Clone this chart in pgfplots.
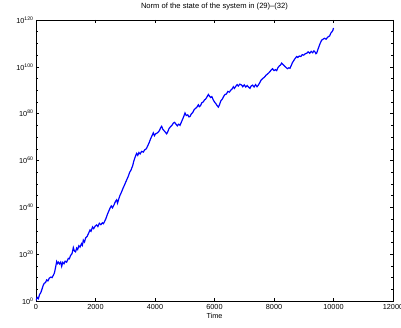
\documentclass[border=0pt]{standalone}
\usepackage{pgfplots}
\pgfplotsset{compat=1.18}
\usepackage{fontspec}
\setmainfont{Liberation Sans}
\begin{document}
\begin{tikzpicture}
\begin{axis}[
  scale only axis, width=357pt, height=281pt, at={(0,0)}, anchor=south west,
  xmin=0, xmax=12000, ymin=0, ymax=120,
  xtick={0,2000,4000,6000,8000,10000,12000},
  ytick={0,20,40,60,80,100,120},
  yticklabels={10\textsuperscript{0},10\textsuperscript{20},10\textsuperscript{40},10\textsuperscript{60},10\textsuperscript{80},10\textsuperscript{100},10\textsuperscript{120}},
  minor ytick={5,10,15,25,30,35,45,50,55,65,70,75,85,90,95,105,110,115},
  tick align=inside, major tick length=3pt, minor tick length=2pt,
  every tick/.style={black, line width=0.5pt},
  axis line style={line width=0.6pt},
  ticklabel style={font=\fontsize{7.3}{8}\selectfont},
  yticklabel style={xshift=1pt},
  scaled x ticks=false,
  xticklabel style={/pgf/number format/1000 sep={}},
  /pgf/number format/assume math mode=true,
  title={Norm of the state of the system in (29)--(32)},
  title style={font=\fontsize{7.6}{8.5}\selectfont, at={(0.5,1)}, anchor=south, yshift=0pt},
  xlabel={Time},
  xlabel style={font=\fontsize{7.3}{8}\selectfont, yshift=3pt},
]
\addplot[color={rgb,1:red,0;green,0;blue,1}, line width=1.2pt] table {
x y
0 0.3
40 1.5
80 1.0
120 2.8
160 3.5
200 5.0
246 6.8
280 7.6
320 7.9
359 9.0
400 8.6
450 9.8
500 10.2
540 10.0
583 11.0
620 12.0
660 14.5
695 16.8
720 16.0
750 16.6
790 15.8
830 16.6
863 14.8
900 16.5
940 15.9
980 17.0
1030 16.6
1087 18.2
1120 18.0
1160 19.4
1210 20.2
1255 22.8
1290 21.4
1330 21.0
1367 22.6
1400 22.0
1440 23.6
1480 23.0
1530 24.5
1560 23.8
1591 26.0
1630 25.2
1670 27.0
1720 27.6
1770 29.0
1815 30.3
1850 29.8
1900 31.6
1940 30.9
1990 32.0
2039 32.5
2080 31.8
2130 33.2
2180 32.6
2230 33.4
2263 33.0
2300 33.8
2350 35.2
2400 37.0
2450 38.5
2487 39.6
2530 40.6
2570 39.8
2620 41.0
2670 42.5
2711 43.2
2740 41.8
2780 43.5
2820 45.0
2870 46.4
2920 48.0
2970 49.4
3010 50.6
3048 51.7
3100 53.2
3150 55.0
3190 55.8
3216 56.7
3250 57.8
3280 59.4
3320 61.0
3360 62.4
3384 63.0
3420 62.2
3460 63.4
3500 62.8
3550 63.9
3608 63.6
3650 64.5
3690 64.8
3720 65.3
3760 66.4
3800 67.5
3850 69.2
3900 70.6
3944 71.8
3980 70.6
4020 71.4
4055 71.6
4100 72.0
4150 72.8
4190 74.0
4224 74.6
4260 73.4
4300 72.8
4340 72.2
4392 71.4
4430 72.3
4470 73.6
4520 74.4
4570 75.0
4616 76.0
4660 76.3
4700 75.6
4750 74.8
4800 75.5
4840 75.0
4880 76.2
4920 77.4
4960 78.6
5008 80.3
5050 79.2
5100 79.5
5140 78.6
5176 78.8
5220 79.9
5270 80.5
5320 81.8
5370 82.3
5420 83.0
5457 83.8
5490 83.0
5530 83.4
5570 84.6
5620 85.0
5660 85.8
5700 86.2
5750 87.2
5793 88.2
5830 87.5
5870 86.9
5910 87.3
5961 85.8
6000 85.0
6050 84.2
6090 83.4
6129 82.8
6170 83.9
6210 85.4
6260 86.2
6310 87.4
6353 88.2
6400 88.4
6450 89.5
6500 89.2
6550 90.1
6600 90.7
6633 91.5
6670 90.8
6710 91.6
6760 92.4
6800 91.8
6850 92.6
6914 92.2
6950 91.5
7000 92.3
7050 91.4
7100 92.0
7150 91.3
7193 90.8
7230 91.8
7280 92.2
7330 91.4
7380 92.4
7430 91.5
7473 92.2
7520 93.2
7560 94.2
7586 94.6
7630 95.1
7680 95.6
7730 96.4
7780 96.9
7830 97.5
7866 98.0
7900 98.6
7950 99.2
8000 98.4
8050 98.8
8090 98.4
8130 99.6
8180 100.4
8220 100.8
8258 101.6
8300 101.0
8350 100.4
8400 99.8
8450 99.2
8500 99.6
8538 99.4
8580 100.6
8620 101.8
8660 102.6
8700 103.4
8762 104.4
8800 104.0
8850 104.6
8900 104.4
8950 105.2
9000 105.0
9050 105.6
9098 105.8
9150 106.4
9200 105.8
9250 106.6
9300 106.0
9340 106.8
9378 106.4
9410 105.6
9434 105.8
9470 107.2
9510 108.6
9550 110.0
9603 111.4
9650 111.8
9700 112.2
9750 111.8
9800 112.6
9827 112.9
9870 113.2
9910 114.4
9950 115.0
9980 115.6
10000 116.6
};
\end{axis}
\pgfresetboundingbox
\path[use as bounding box] (-36pt,-26pt) rectangle (365pt,301pt);
\end{tikzpicture}
\end{document}
